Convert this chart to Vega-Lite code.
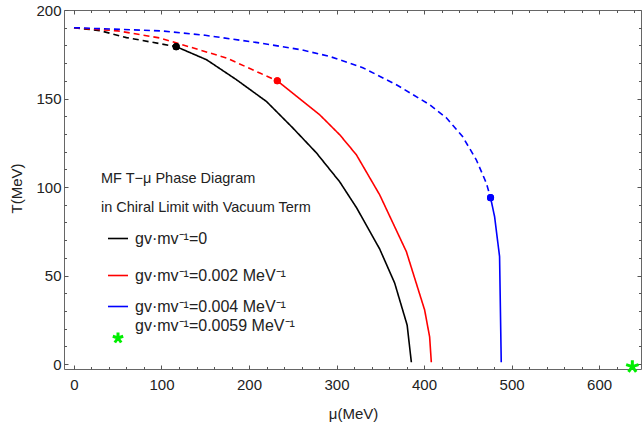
{
  "$schema": "https://vega.github.io/schema/vega-lite/v6.json",
  "width": 577,
  "height": 359,
  "autosize": {"type": "none"},
  "padding": {"left": 64, "top": 10, "right": 1, "bottom": 64},
  "background": "white",
  "config": {
    "font": "Liberation Sans",
    "view": {"stroke": "#666666", "strokeWidth": 1},
    "axis": {"labelFont": "Liberation Sans", "titleFont": "Liberation Sans", "labelColor": "#222222", "titleColor": "#222222", "tickColor": "#555555", "domain": false, "grid": false}
  },
  "datasets": {
    "lines": [
      {"s": "gv·mv⁻¹=0", "seg": "A1", "style": "dashed", "i": 0, "mu": 0, "T": 190},
      {"s": "gv·mv⁻¹=0", "seg": "A1", "style": "dashed", "i": 1, "mu": 30, "T": 188.3},
      {"s": "gv·mv⁻¹=0", "seg": "A1", "style": "dashed", "i": 2, "mu": 60, "T": 184.4},
      {"s": "gv·mv⁻¹=0", "seg": "A1", "style": "dashed", "i": 3, "mu": 116.8, "T": 179.3},
      {"s": "gv·mv⁻¹=0", "seg": "A2", "style": "solid", "i": 4, "mu": 116.8, "T": 179.3},
      {"s": "gv·mv⁻¹=0", "seg": "A2", "style": "solid", "i": 5, "mu": 151.5, "T": 171.9},
      {"s": "gv·mv⁻¹=0", "seg": "A2", "style": "solid", "i": 6, "mu": 185.7, "T": 160.6},
      {"s": "gv·mv⁻¹=0", "seg": "A2", "style": "solid", "i": 7, "mu": 220, "T": 148.3},
      {"s": "gv·mv⁻¹=0", "seg": "A2", "style": "solid", "i": 8, "mu": 250, "T": 133.4},
      {"s": "gv·mv⁻¹=0", "seg": "A2", "style": "solid", "i": 9, "mu": 277, "T": 119.3},
      {"s": "gv·mv⁻¹=0", "seg": "A2", "style": "solid", "i": 10, "mu": 303.7, "T": 102.9},
      {"s": "gv·mv⁻¹=0", "seg": "A2", "style": "solid", "i": 11, "mu": 323, "T": 88.2},
      {"s": "gv·mv⁻¹=0", "seg": "A2", "style": "solid", "i": 12, "mu": 349.3, "T": 65},
      {"s": "gv·mv⁻¹=0", "seg": "A2", "style": "solid", "i": 13, "mu": 366.4, "T": 45.8},
      {"s": "gv·mv⁻¹=0", "seg": "A2", "style": "solid", "i": 14, "mu": 380.7, "T": 22},
      {"s": "gv·mv⁻¹=0", "seg": "A2", "style": "solid", "i": 15, "mu": 385.5, "T": 1},
      {"s": "gv·mv⁻¹=0.002 MeV⁻¹", "seg": "B1", "style": "dashed", "i": 0, "mu": 0, "T": 190},
      {"s": "gv·mv⁻¹=0.002 MeV⁻¹", "seg": "B1", "style": "dashed", "i": 1, "mu": 50, "T": 188.2},
      {"s": "gv·mv⁻¹=0.002 MeV⁻¹", "seg": "B1", "style": "dashed", "i": 2, "mu": 98.2, "T": 184.2},
      {"s": "gv·mv⁻¹=0.002 MeV⁻¹", "seg": "B1", "style": "dashed", "i": 3, "mu": 174.3, "T": 172.9},
      {"s": "gv·mv⁻¹=0.002 MeV⁻¹", "seg": "B1", "style": "dashed", "i": 4, "mu": 212.3, "T": 164.4},
      {"s": "gv·mv⁻¹=0.002 MeV⁻¹", "seg": "B1", "style": "dashed", "i": 5, "mu": 232.3, "T": 160},
      {"s": "gv·mv⁻¹=0.002 MeV⁻¹", "seg": "B2", "style": "solid", "i": 6, "mu": 232.3, "T": 160},
      {"s": "gv·mv⁻¹=0.002 MeV⁻¹", "seg": "B2", "style": "solid", "i": 7, "mu": 280.8, "T": 140.8},
      {"s": "gv·mv⁻¹=0.002 MeV⁻¹", "seg": "B2", "style": "solid", "i": 8, "mu": 303.7, "T": 129.5},
      {"s": "gv·mv⁻¹=0.002 MeV⁻¹", "seg": "B2", "style": "solid", "i": 9, "mu": 322.7, "T": 118.2},
      {"s": "gv·mv⁻¹=0.002 MeV⁻¹", "seg": "B2", "style": "solid", "i": 10, "mu": 349.3, "T": 95.6},
      {"s": "gv·mv⁻¹=0.002 MeV⁻¹", "seg": "B2", "style": "solid", "i": 11, "mu": 379.8, "T": 63.5},
      {"s": "gv·mv⁻¹=0.002 MeV⁻¹", "seg": "B2", "style": "solid", "i": 12, "mu": 400.7, "T": 30.5},
      {"s": "gv·mv⁻¹=0.002 MeV⁻¹", "seg": "B2", "style": "solid", "i": 13, "mu": 406.4, "T": 15.3},
      {"s": "gv·mv⁻¹=0.002 MeV⁻¹", "seg": "B2", "style": "solid", "i": 14, "mu": 408.3, "T": 1},
      {"s": "gv·mv⁻¹=0.004 MeV⁻¹", "seg": "C1", "style": "dashed", "i": 0, "mu": 0, "T": 190},
      {"s": "gv·mv⁻¹=0.004 MeV⁻¹", "seg": "C1", "style": "dashed", "i": 1, "mu": 100, "T": 188.2},
      {"s": "gv·mv⁻¹=0.004 MeV⁻¹", "seg": "C1", "style": "dashed", "i": 2, "mu": 150, "T": 185.7},
      {"s": "gv·mv⁻¹=0.004 MeV⁻¹", "seg": "C1", "style": "dashed", "i": 3, "mu": 212, "T": 181.4},
      {"s": "gv·mv⁻¹=0.004 MeV⁻¹", "seg": "C1", "style": "dashed", "i": 4, "mu": 260, "T": 177.5},
      {"s": "gv·mv⁻¹=0.004 MeV⁻¹", "seg": "C1", "style": "dashed", "i": 5, "mu": 292, "T": 173.8},
      {"s": "gv·mv⁻¹=0.004 MeV⁻¹", "seg": "C1", "style": "dashed", "i": 6, "mu": 330, "T": 167.4},
      {"s": "gv·mv⁻¹=0.004 MeV⁻¹", "seg": "C1", "style": "dashed", "i": 7, "mu": 368.4, "T": 157.8},
      {"s": "gv·mv⁻¹=0.004 MeV⁻¹", "seg": "C1", "style": "dashed", "i": 8, "mu": 406.4, "T": 146.5},
      {"s": "gv·mv⁻¹=0.004 MeV⁻¹", "seg": "C1", "style": "dashed", "i": 9, "mu": 425.5, "T": 139.1},
      {"s": "gv·mv⁻¹=0.004 MeV⁻¹", "seg": "C1", "style": "dashed", "i": 10, "mu": 444, "T": 128.5},
      {"s": "gv·mv⁻¹=0.004 MeV⁻¹", "seg": "C1", "style": "dashed", "i": 11, "mu": 459.7, "T": 115.4},
      {"s": "gv·mv⁻¹=0.004 MeV⁻¹", "seg": "C1", "style": "dashed", "i": 12, "mu": 471.1, "T": 102.3},
      {"s": "gv·mv⁻¹=0.004 MeV⁻¹", "seg": "C1", "style": "dashed", "i": 13, "mu": 476, "T": 94},
      {"s": "gv·mv⁻¹=0.004 MeV⁻¹", "seg": "C2", "style": "solid", "i": 14, "mu": 476, "T": 94},
      {"s": "gv·mv⁻¹=0.004 MeV⁻¹", "seg": "C2", "style": "solid", "i": 15, "mu": 480.6, "T": 83.3},
      {"s": "gv·mv⁻¹=0.004 MeV⁻¹", "seg": "C2", "style": "solid", "i": 16, "mu": 486.3, "T": 60.7},
      {"s": "gv·mv⁻¹=0.004 MeV⁻¹", "seg": "C2", "style": "solid", "i": 17, "mu": 488.2, "T": 1}
    ],
    "dots": [
      {"s": "gv·mv⁻¹=0", "mu": 116.8, "T": 179.3},
      {"s": "gv·mv⁻¹=0.002 MeV⁻¹", "mu": 232.3, "T": 160},
      {"s": "gv·mv⁻¹=0.004 MeV⁻¹", "mu": 476, "T": 94}
    ],
    "star": [
      {"s": "gv·mv⁻¹=0.0059 MeV⁻¹", "mu": 638, "T": -1.5}
    ]
  },
  "resolve": {"axis": {"x": "independent", "y": "independent"}},
  "layer": [
    {
      "data": {"name": "lines"},
      "mark": {"type": "line", "strokeWidth": 1.6},
      "encoding": {
        "x": {"field": "mu", "type": "quantitative", "scale": {"domain": [-11.4, 647.9], "nice": false, "zero": false},
              "axis": {"orient": "bottom", "values": [0, 100, 200, 300, 400, 500, 600], "tickSize": -4, "labelPadding": 12, "labelFontSize": 15,
                       "title": "μ(MeV)", "titleFontSize": 15, "titleFontWeight": "normal", "titleX": 289, "titleY": 44, "titleBaseline": "middle"}},
        "y": {"field": "T", "type": "quantitative", "scale": {"domain": [-2.8, 200], "nice": false, "zero": false},
              "axis": {"orient": "left", "values": [0, 50, 100, 150, 200], "tickSize": -4, "labelPadding": 7, "labelFontSize": 15,
                       "title": "T(MeV)", "titleFontSize": 15, "titleFontWeight": "normal", "titleX": -48, "titleY": 178, "titleBaseline": "middle", "titleAngle": -90}},
        "color": {"field": "s", "type": "nominal",
                  "scale": {"domain": ["gv·mv⁻¹=0", "gv·mv⁻¹=0.002 MeV⁻¹", "gv·mv⁻¹=0.004 MeV⁻¹", "gv·mv⁻¹=0.0059 MeV⁻¹"], "range": ["#000000", "#ff0000", "#0000ff", "#00ee00"]},
                  "legend": {"orient": "none", "legendX": 37, "legendY": 162,
                             "title": ["MF T−μ Phase Diagram", "in Chiral Limit with Vacuum Term"],
                             "titleFontSize": 14.5, "titleFontWeight": "normal", "titleColor": "#222222", "titleLineHeight": 29, "titlePadding": 15, "titleLimit": 500,
                             "labelFontSize": 16, "labelColor": "#222222", "labelOffset": 9, "labelLimit": 400,
                             "symbolType": "stroke", "symbolSize": 400, "symbolStrokeWidth": 1.6, "symbolOffset": 9, "rowPadding": 3,
                             "encode": {
                               "symbols": {"update": {
                                 "shape": {"signal": "datum.value === 'gv·mv⁻¹=0.0059 MeV⁻¹' ? 'M0,0.7L0,1.25M0,1.25L0.52,1.08M0,1.25L-0.52,1.08M0,1.25L0.32,1.7M0,1.25L-0.32,1.7' : (datum.value === 'gv·mv⁻¹=0.004 MeV⁻¹' ? 'M-1,0L1,0' : (datum.value === 'gv·mv⁻¹=0.002 MeV⁻¹' ? 'M-1,0L1,0M0,1.6' : 'M-1,0L1,0M0,2.2'))"},
                                 "strokeWidth": {"signal": "datum.value === 'gv·mv⁻¹=0.0059 MeV⁻¹' ? 3 : 1.6"}}}}}},
        "strokeDash": {"field": "style", "type": "nominal", "scale": {"domain": ["dashed", "solid"], "range": [[6, 4], [1, 0]]}, "legend": null},
        "detail": {"field": "seg", "type": "nominal"},
        "order": {"field": "i", "type": "quantitative"}
      }
    },
    {
      "data": {"name": "dots"},
      "mark": {"type": "point", "filled": true, "size": 50, "opacity": 1},
      "encoding": {
        "x": {"field": "mu", "type": "quantitative", "axis": {"orient": "bottom", "values": [20,40,60,80,120,140,160,180,220,240,260,280,320,340,360,380,420,440,460,480,520,540,560,580,620,640], "tickSize": -2.5, "labels": false, "title": null}},
        "y": {"field": "T", "type": "quantitative", "axis": {"orient": "left", "values": [10,20,30,40,60,70,80,90,110,120,130,140,160,170,180,190], "tickSize": -2.5, "labels": false, "title": null}},
        "color": {"field": "s", "type": "nominal"}
      }
    },
    {
      "data": {"name": "dots"},
      "mark": {"type": "point", "filled": true, "size": 50, "opacity": 1},
      "encoding": {
        "x": {"field": "mu", "type": "quantitative", "axis": {"orient": "top", "values": [0, 100, 200, 300, 400, 500, 600], "tickSize": -4, "labels": false, "title": null}},
        "y": {"field": "T", "type": "quantitative", "axis": {"orient": "right", "values": [0, 50, 100, 150, 200], "tickSize": -4, "labels": false, "title": null}},
        "color": {"field": "s", "type": "nominal"}
      }
    },
    {
      "data": {"name": "star"},
      "mark": {"type": "point", "filled": false, "strokeWidth": 3, "size": 170, "opacity": 1,
               "shape": "M0,-1L0,0M0,0L0.95,-0.31M0,0L-0.95,-0.31M0,0L0.59,0.81M0,0L-0.59,0.81"},
      "encoding": {
        "x": {"field": "mu", "type": "quantitative", "axis": {"orient": "top", "values": [20,40,60,80,120,140,160,180,220,240,260,280,320,340,360,380,420,440,460,480,520,540,560,580,620,640], "tickSize": -2.5, "labels": false, "title": null}},
        "y": {"field": "T", "type": "quantitative", "axis": {"orient": "right", "values": [10,20,30,40,60,70,80,90,110,120,130,140,160,170,180,190], "tickSize": -2.5, "labels": false, "title": null}},
        "color": {"field": "s", "type": "nominal"}
      }
    }
  ]
}
